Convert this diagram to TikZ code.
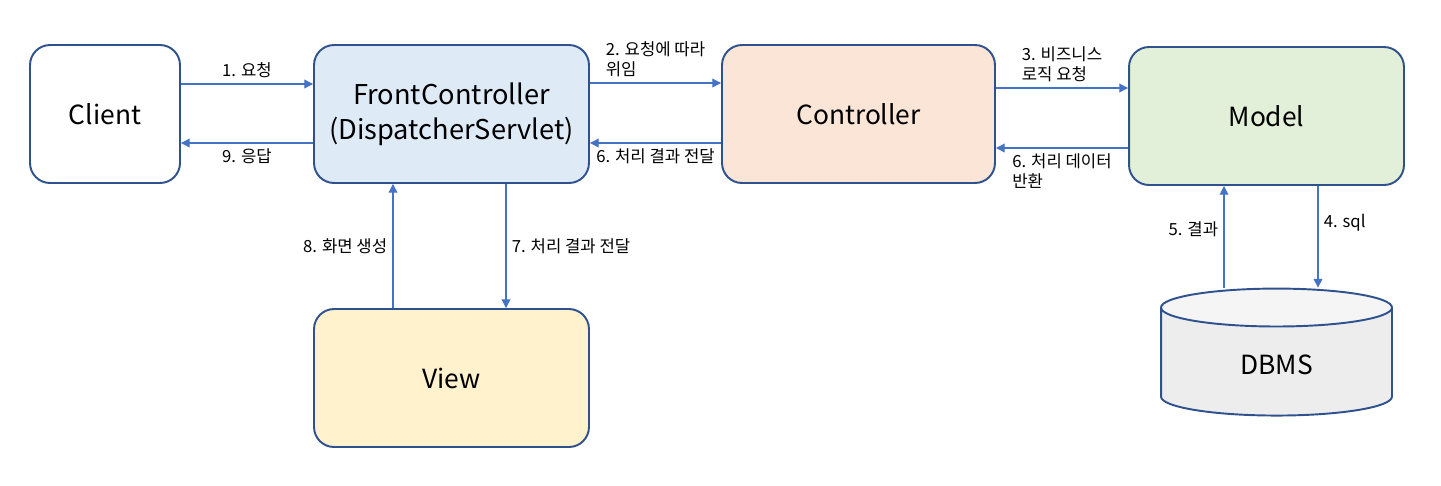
\documentclass[tikz,border=0pt]{standalone}
\usepackage{fontspec}
\setmainfont{Noto Sans CJK KR}
\usetikzlibrary{arrows.meta,shapes.geometric}
\definecolor{boxline}{HTML}{2F528F}
\definecolor{arrline}{HTML}{4472C4}
\definecolor{fcfill}{HTML}{DEEBF7}
\definecolor{ctfill}{HTML}{FBE5D6}
\definecolor{mdfill}{HTML}{E2F0D9}
\definecolor{vwfill}{HTML}{FFF2CC}
\begin{document}
\begin{tikzpicture}[x=0.02cm, y=-0.02cm,
	box/.style={draw=boxline, line width=1.1pt, rounded corners=0.4cm,
		minimum width=5.5cm, minimum height=2.76cm, font=\fontsize{15}{18}\selectfont},
	arr/.style={draw=arrline, line width=0.6pt, -{Triangle[length=5pt, width=5pt]}},
	lbl/.style={font=\fontsize{9.5}{11.5}\selectfont, align=left, inner sep=3pt}]
	\useasboundingbox (0,0) rectangle (1441,485);
	
	% boxes
	\node[box, minimum width=3cm] (client) at (105,114) {Client};
	\node[box, fill=fcfill, align=center, font=\fontsize{15.5}{20}\selectfont] (front) at (451.5,114) {FrontController\\(DispatcherServlet)};
	\node[box, fill=ctfill, minimum width=5.46cm] (ctrl) at (858.5,114) {Controller};
	\node[box, fill=mdfill] (model) at (1266.5,116) {Model};
	\node[box, fill=vwfill] (view) at (451.5,378) {View};
	\node[cylinder, shape border rotate=90, aspect=0.45, draw=boxline, line width=1.1pt,
		minimum height=2.54cm, minimum width=4.62cm, cylinder uses custom fill,
		cylinder body fill=black!7, cylinder end fill=black!4,
		font=\fontsize{15}{18}\selectfont] (dbms) at (1276.5,365) {DBMS};
	
	% left to right
	\draw[arr] (client.east |- 0,84) -- node[lbl, above] {1. 요청} (front.west |- 0,84);
	\draw[arr] (front.east |- 0,83) -- node[lbl, above] {2. 요청에 따라\\위임} (ctrl.west |- 0,83);
	\draw[arr] (ctrl.east |- 0,88) -- node[lbl, above] {3. 비즈니스\\로직 요청} (model.west |- 0,88);
	
	% right to left
	\draw[arr] (model.west |- 0,148) -- node[lbl, below] {6. 처리 데이터\\반환} (ctrl.east |- 0,148);
	\draw[arr] (ctrl.west |- 0,143) -- node[lbl, below] {6. 처리 결과 전달} (front.east |- 0,143);
	\draw[arr] (front.west |- 0,143) -- node[lbl, below] {9. 응답} (client.east |- 0,143);
	
	% up and down
	\draw[arr] (front.south -| 506,0) -- node[lbl, right] {7. 처리 결과 전달} (view.north -| 506,0);
	\draw[arr] (view.north -| 393,0) -- node[lbl, left] {8. 화면 생성} (front.south -| 393,0);
	\draw[arr] (model.south -| 1318,0) -- node[lbl, right, pos=0.36] {4. sql} (dbms.north -| 1318,0);
	\draw[arr] (dbms.north -| 1224,0) -- node[lbl, left, pos=0.57] {5. 결과} (model.south -| 1224,0);
\end{tikzpicture}
\end{document}
